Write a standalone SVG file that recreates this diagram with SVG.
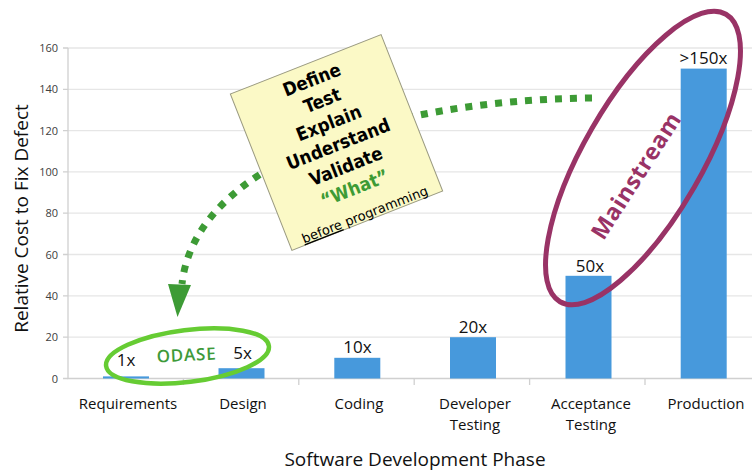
<svg xmlns="http://www.w3.org/2000/svg" width="752" height="471" viewBox="0 0 752 471">
  <style>
    .grid { stroke: #e6e6e6; stroke-width: 1.3; }
    .axis { stroke: #d0d0d0; stroke-width: 1.3; fill: none; }
    .ylab { font-family: "Open Sans", "Liberation Sans", sans-serif; font-size: 11px; fill: #404040; text-anchor: end; }
    .bar { fill: #4799dc; }
    .val { font-family: "Open Sans", "Liberation Sans", sans-serif; font-size: 17px; fill: #111; text-anchor: middle; }
    .cat { font-family: "Open Sans", "Liberation Sans", sans-serif; font-size: 15px; fill: #111; text-anchor: middle; }
    .title { font-family: "Open Sans", "Liberation Sans", sans-serif; font-size: 19px; fill: #111; text-anchor: middle; }
    .note { fill: #fbf9c6; stroke: #9a9a80; stroke-width: 1; }
    .nt { font-family: "DejaVu Sans Condensed", "DejaVu Sans", Verdana, sans-serif; font-stretch: condensed; font-size: 18.5px; font-weight: bold; fill: #000; text-anchor: middle; }
    .dots { fill: none; stroke: #3d9b35; stroke-width: 7; stroke-dasharray: 7 8; }
  </style>

  <g id="gridlines">
    <line class="grid" x1="68" y1="48" x2="752" y2="48"/>
    <line class="grid" x1="68" y1="89.3" x2="752" y2="89.3"/>
    <line class="grid" x1="68" y1="130.6" x2="752" y2="130.6"/>
    <line class="grid" x1="68" y1="171.9" x2="752" y2="171.9"/>
    <line class="grid" x1="68" y1="213.2" x2="752" y2="213.2"/>
    <line class="grid" x1="68" y1="254.5" x2="752" y2="254.5"/>
    <line class="grid" x1="68" y1="295.9" x2="752" y2="295.9"/>
    <line class="grid" x1="68" y1="337.2" x2="752" y2="337.2"/>
  </g>

  <g id="axes">
    <path class="axis" d="M68 48 V378.5 H752"/>
    <path class="axis" d="M63 48 H68 M63 89.3 H68 M63 130.6 H68 M63 171.9 H68 M63 213.2 H68 M63 254.5 H68 M63 295.9 H68 M63 337.2 H68 M63 378.5 H68"/>
    <path class="axis" d="M183.4 378.5 V385 M298.8 378.5 V385 M414.2 378.5 V385 M529.6 378.5 V385 M645 378.5 V385"/>
    <text class="ylab" x="58" y="52">160</text>
    <text class="ylab" x="58" y="93.3">140</text>
    <text class="ylab" x="58" y="134.6">120</text>
    <text class="ylab" x="58" y="175.9">100</text>
    <text class="ylab" x="58" y="217.2">80</text>
    <text class="ylab" x="58" y="258.5">60</text>
    <text class="ylab" x="58" y="299.9">40</text>
    <text class="ylab" x="58" y="341.2">20</text>
    <text class="ylab" x="58" y="382.5">0</text>
    <text class="title" transform="translate(28 218.5) rotate(-90)">Relative Cost to Fix Defect</text>
    <text class="title" x="415" y="466">Software Development Phase</text>
  </g>

  <g id="bars">
    <rect class="bar" x="103" y="376.4" width="46" height="2.1"/>
    <rect class="bar" x="218.5" y="368.2" width="46" height="10.3"/>
    <rect class="bar" x="334.3" y="357.8" width="46" height="20.7"/>
    <rect class="bar" x="450" y="337.2" width="46" height="41.3"/>
    <rect class="bar" x="565.5" y="275.8" width="46" height="102.7"/>
    <rect class="bar" x="680.7" y="68.6" width="46" height="309.9"/>
  </g>

  <g id="values">
    <text class="val" x="126" y="366">1x</text>
    <text class="val" x="242.5" y="359">5x</text>
    <text class="val" x="357.5" y="353">10x</text>
    <text class="val" x="473" y="333">20x</text>
    <text class="val" x="590" y="272">50x</text>
    <text class="val" x="703.5" y="63.5">&gt;150x</text>
  </g>

  <g id="categories">
    <text class="cat" x="128" y="409">Requirements</text>
    <text class="cat" x="243" y="409">Design</text>
    <text class="cat" x="359" y="409">Coding</text>
    <text class="cat" x="475" y="409">Developer</text>
    <text class="cat" x="475" y="430">Testing</text>
    <text class="cat" x="591" y="409">Acceptance</text>
    <text class="cat" x="591" y="430">Testing</text>
    <text class="cat" x="706" y="409">Production</text>
  </g>

  <g id="connectors">
    <path class="dots" d="M592 98 C380 100 195 165 182 284"/>
    <polygon points="168,284 191,285 177.5,317" fill="#3d9b35"/>
  </g>

  <g id="note" transform="translate(336.5 142.5) rotate(-21.5)">
    <rect class="note" x="-81" y="-84" width="162" height="168"/>
    <text class="nt" x="0" y="-61">Define</text>
    <text class="nt" x="2" y="-38">Test</text>
    <text class="nt" x="0" y="-14.5">Explain</text>
    <text class="nt" x="1" y="8.5">Understand</text>
    <text class="nt" x="0" y="32">Validate</text>
    <text class="nt" x="0" y="55.5" style="fill:#3d9b35">“What”</text>
    <text x="0" y="82" text-anchor="middle" font-family="DejaVu Sans, Verdana, sans-serif" font-size="13" fill="#000"><tspan text-decoration="underline">before</tspan> programming</text>
  </g>

  <g id="odase">
    <ellipse cx="187.5" cy="356" rx="82" ry="26" transform="rotate(-7 187.5 356)" fill="none" stroke="#66cc33" stroke-width="4.5"/>
    <text x="186.5" y="361" text-anchor="middle" font-family="Open Sans, Liberation Sans, sans-serif" font-size="17" font-weight="600" letter-spacing="0.8" fill="#3e9a3a" transform="rotate(-3 186.5 355)">ODASE</text>
  </g>

  <g id="mainstream">
    <ellipse cx="643" cy="158" rx="166" ry="59" transform="rotate(-60 643 158)" fill="none" stroke="#993366" stroke-width="5"/>
    <text x="0" y="0" text-anchor="middle" font-family="Open Sans, Liberation Sans, sans-serif" font-size="23" font-weight="bold" fill="#993366" textLength="145" transform="translate(636 176) rotate(-57.3) translate(0 8)">Mainstream</text>
  </g>
</svg>
